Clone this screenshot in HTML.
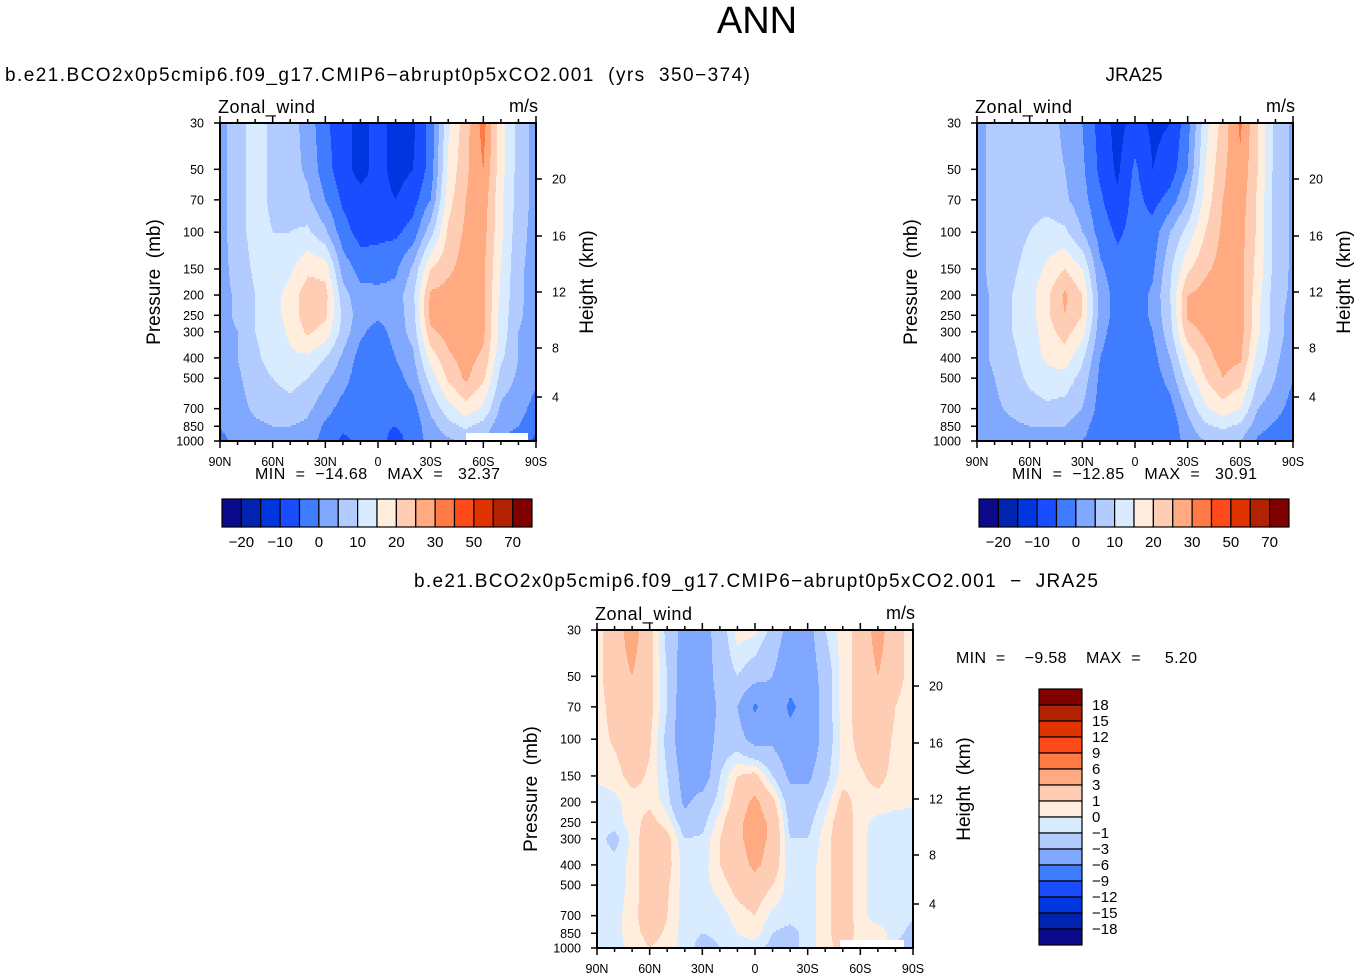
<!DOCTYPE html>
<html><head><meta charset="utf-8">
<style>
html,body{margin:0;padding:0;background:#fff;}
svg{display:block;font-family:"Liberation Sans",sans-serif;}
text{white-space:pre;}
</style></head>
<body>
<svg id="fig" width="1360" height="980" viewBox="0 0 1360 980" xmlns="http://www.w3.org/2000/svg">
<text x="757" y="33" font-size="38" text-anchor="middle">ANN</text>
<text x="5" y="81" font-size="19" textLength="745" lengthAdjust="spacing">b.e21.BCO2x0p5cmip6.f09_g17.CMIP6−abrupt0p5xCO2.001  (yrs  350−374)</text>
<text x="1134" y="81" font-size="19" text-anchor="middle">JRA25</text>
<text x="414" y="587" font-size="19" textLength="684" lengthAdjust="spacing">b.e21.BCO2x0p5cmip6.f09_g17.CMIP6−abrupt0p5xCO2.001  −  JRA25</text>
<g id="p1"></g>
<g id="p2"></g>
<g id="p3"></g>
</svg>
<script>
const latLabels = ["90N","60N","30N","0","30S","60S","90S"];
const pLevels = [30,50,70,100,150,200,250,300,400,500,700,850,1000];
const kmTicks = [20,16,12,8,4];
const kmY = [179,236,292,348,397];
const windBounds = [-20,-15,-10,-5,0,5,10,15,20,25,30,40,50,60,70];
const windLabels = ["−20","−10","0","10","20","30","50","70"];
const diffBounds = [-18,-15,-12,-9,-6,-3,-1,0,1,3,6,9,12,15,18];
const diffLabels = ["18","15","12","9","6","3","1","0","−1","−3","−6","−9","−12","−15","−18"];
const palette = ["#0a0a8a","#0023b0","#0036e0","#1a4dff","#3f7cff","#80a8ff","#b3ccff","#d9ebff","#ffeedd","#ffcdb3","#ffaa80","#ff7a45","#ff4a1a","#e03300","#b32200","#800000"];
const modelField = [
[3,3,3,3,3,3,3,3,2,2,1,0,-1],
[8,8,8,8,7,6,6,5,5,4,3,2,1],
[12,12,12,12,11,10,10,10,9,8,6,4,3],
[9,9,9,10,12,13,13,12,12,10,7,5,3],
[7,7,8,10,14,17,17,16,14,12,8,5,3],
[3,4,6,11,19,23,23,21,14,10,6,4,2],
[-4,-3,0,6,18,22,21,18,10,6,2,-1,-2],
[-8,-8,-6,-3,3,7,9,8,4,2,-2,-4,-6],
[-12,-12,-8,-7,-2,2,2,1,-2,-3,-4,-4,-4],
[-8,-8,-8,-6,-3,2,1,-2,-4,-4,-4,-4,-3],
[-12,-12,-10,-6,-1,2,2,2,0,-2,-4,-5,-7],
[-11,-10,-7,-3,6,9,8,7,4,2,-2,-3,-3],
[-3,-3,0,8,20,26,27,24,17,12,6,3,2],
[14,16,18,21,24,27,28,27,24,21,13,8,4],
[23,24,25,26,27,28,28,28,27,26,18,11,6],
[32,30,28,27,26,26,26,26,24,21,14,8,5],
[17,17,16,16,15,14,13,13,11,8,4,2,0],
[8,8,8,7,6,6,6,5,5,4,2,0,-3],
[3,3,3,3,3,3,2,2,1,1,-2,-4,-6]];
const obsField = [
[3,3,3,3,3,3,3,3,3,2,2,1,0],
[7,7,7,7,7,6,6,6,6,5,4,3,1],
[8,8,8,8,9,10,10,10,9,8,6,4,2],
[8,8,8,10,12,13,13,12,12,11,8,5,3],
[7,7,8,12,16,19,19,18,16,13,9,5,3],
[4,5,6,11,20,26,25,22,18,13,8,5,3],
[0,1,2,5,15,20,20,17,11,8,5,2,0],
[-7,-6,-4,-2,1,3,3,2,0,-1,-2,-3,-3],
[-12,-11,-9,-6,-3,-2,-2,-3,-3,-3,-3,-3,-3],
[-8,-4,-3,-3,-3,-3,-3,-4,-4,-4,-4,-4,-3],
[-11,-10,-7,-3,-1,1,1,0,-2,-3,-4,-4,-4],
[-10,-8,-3,5,9,10,9,8,5,2,-2,-3,-3],
[-2,0,5,12,19,25,26,23,16,12,6,3,2],
[13,15,17,20,24,27,27,26,23,20,14,9,5],
[22,24,25,26,27,28,28,28,27,25,18,11,6],
[31,29,28,27,27,27,27,27,26,22,15,9,5],
[20,20,19,19,18,17,16,16,13,10,5,2,-1],
[8,8,8,8,8,7,7,7,6,5,2,-1,-3],
[4,4,4,4,4,4,3,3,2,0,-2,-4,-3]];
const diffField = [
[0.5,0.5,0.5,0.5,0.2,-0.5,-0.5,-0.5,-0.5,-0.5,-0.5,-0.5,-0.5],
[2,2,1.5,1.2,0.5,-0.3,-0.5,-1.5,-0.5,-0.5,-0.4,-0.4,-0.4],
[4,3,2.5,2,1.5,0.5,0.5,0.3,0.3,0.3,0.5,0.5,0.3],
[1.5,1.5,1.5,1.2,0.8,0.7,1.5,2,2,2,2,1.5,1],
[-1.5,-1,-1,-1.5,-1,-0.5,0.5,1.5,1.5,1.2,1,0.8,0.5],
[-4,-4.5,-5,-5,-4,-3.5,-2,-1,-0.5,-0.5,-0.5,-0.5,-0.5],
[-4,-4.5,-5,-5,-4.5,-2,-1.5,-0.8,-0.5,-0.5,-0.5,-1,-1.5],
[-2,-2,-2.5,-2,-1,-0.5,0.5,1,1,0.5,-0.5,-0.8,-1],
[0.5,-1,-3,-2,1,2,2.5,2.5,2,1.5,0.5,0,-0.5],
[0.3,-2,-6.5,-4,1.5,3.5,4,4,3.5,2,1,0.5,-0.5],
[-1.5,-3,-4,-3.5,-1,1.5,2.5,2.5,2,1,-0.3,-1,-1.5],
[-4,-5,-6.5,-5,-3.5,-2,-1.5,-1,-0.7,-0.5,-0.5,-1.5,-1.5],
[-4,-4.5,-5,-5,-3.5,-2,-1.5,-1,-0.5,-0.5,-0.5,-0.5,-0.5],
[-1,-2,-2,-2,-1.5,-0.5,0.2,0.5,0.5,0.5,0.5,0.5,0.5],
[0.5,0.5,0.5,0.3,0.5,1.5,2,2,2,2,2,2,1.5],
[1.5,1.5,1.5,1.5,0.8,0.5,0.3,0.3,0.3,0.3,0.3,0.5,0.3],
[4,3,2.5,2,1.5,0.5,-0.3,-0.5,-0.5,-0.5,-0.5,0.5,1],
[1.5,1.5,1,0.7,0.5,0.2,-0.3,-0.5,-0.5,-0.5,-0.5,-0.5,-1],
[0.5,0.5,0.3,0.3,0.3,0.2,-0.5,-0.5,-0.5,-0.5,-0.8,-1.5,-3]];
const statsModel = ["−14.68","32.37"];
const statsObs = ["−12.85","30.91"];
const statsDiff = ["−9.58","5.20"];

const NS="http://www.w3.org/2000/svg";
function mk(parent,tag,attrs,txt){const e=document.createElementNS(NS,tag);for(const k in attrs)e.setAttribute(k,attrs[k]);if(txt!==undefined)e.textContent=txt;parent.appendChild(e);return e;}
const L0=Math.log(30),L1=Math.log(1000);
function yOf(p,top,h){return top+(Math.log(p)-L0)/(L1-L0)*h;}
function binIdx(v,b){let i=0;while(i<b.length&&v>=b[i])i++;return i;}
function sample(field,fx,lnp){
  let i=Math.min(Math.floor(fx),17);let tx=fx-i;
  let k=0;while(k<pLevels.length-2&&Math.log(pLevels[k+1])<lnp)k++;
  const a=Math.log(pLevels[k]),b=Math.log(pLevels[k+1]);let ty=(lnp-a)/(b-a);ty=Math.max(0,Math.min(1,ty));
  const v00=field[i][k],v10=field[i+1][k],v01=field[i][k+1],v11=field[i+1][k+1];
  return (v00*(1-tx)+v10*tx)*(1-ty)+(v01*(1-tx)+v11*tx)*ty;
}
function drawPanel(g,field,bounds,left,top){
  const w=316,h=318;
  const cg=mk(g,'g',{});
  
  
  const step=2;
  for(let y=0;y<h;y+=step){
    const lnp=L0+(y+step/2)/h*(L1-L0);
    let runStart=0,runC=-1;
    for(let x=0;x<=w;x++){
      let c=-2;
      if(x<w){const fx=(x+0.5)/w*18;c=binIdx(sample(field,fx,lnp),bounds);}
      if(c!==runC){
        if(runC>=0){const r=mk(cg,'rect',{x:left+runStart,y:top+y,width:x-runStart+0.5,height:step+0.5,fill:palette[runC]});
          
          }
        runStart=x;runC=c;
      }
    }
  }
  const fr=mk(g,'rect',{x:left,y:top,width:w,height:h,fill:'none',stroke:'#000','stroke-width':2});
  
  
  pLevels.forEach(p=>{const yy=yOf(p,top,h);
    mk(g,'line',{x1:left-6,x2:left,y1:yy,y2:yy,stroke:'#000','stroke-width':1.5});
    const t=mk(g,'text',{x:left-16,y:yy+4.5,'font-size':12.5,'text-anchor':'end'},String(p));
    
    });
  kmTicks.forEach((km,i)=>{const yy=top+(kmY[i]-123);
    mk(g,'line',{x1:left+w,x2:left+w+6,y1:yy,y2:yy,stroke:'#000','stroke-width':1.5});
    const t=mk(g,'text',{x:left+w+16,y:yy+4.5,'font-size':12.5},String(km));
    
    });
  for(let i=0;i<=18;i++){const xx=left+i*w/18;const len=(i%3===0)?7:4;
    mk(g,'line',{x1:xx,x2:xx,y1:top+h,y2:top+h+len,stroke:'#000','stroke-width':1.5});
    mk(g,'line',{x1:xx,x2:xx,y1:top,y2:top-len,stroke:'#000','stroke-width':1.5});}
  latLabels.forEach((lb,i)=>{const t=mk(g,'text',{x:left+i*w/6,y:top+h+25,'font-size':12.5,'text-anchor':'middle'},lb);
    
    });
  const yt=mk(g,'text',{transform:`translate(${left-60},${top+h/2}) rotate(-90)`,'font-size':19,'text-anchor':'middle'},'Pressure  (mb)');
  
  
  const ht=mk(g,'text',{transform:`translate(${left+w+57},${top+h/2}) rotate(-90)`,'font-size':19,'text-anchor':'middle'},'Height  (km)');
  
  
  const zt=mk(g,'text',{x:left-2,y:top-10,'font-size':18,textLength:97,lengthAdjust:'spacing'},'Zonal_wind');
  
  
  const ut=mk(g,'text',{x:left+w+2,y:top-11,'font-size':18,'text-anchor':'end'},'m/s');
  
  
}
function hbar(g,left,top,stats){
  const st=mk(g,'text',{x:left+33,y:top-20,'font-size':16,textLength:245,lengthAdjust:'spacing'},`MIN  =  ${stats[0]}    MAX  =   ${stats[1]}`);
  
  
  const bw=310/16;
  palette.forEach((c,i)=>{const r=mk(g,'rect',{x:left+i*bw,y:top,width:bw,height:28,fill:c,stroke:'#000','stroke-width':1.2});
    
    });
  windLabels.forEach((lb,i)=>{const t=mk(g,'text',{x:left+(2*i+1)*bw,y:top+48,'font-size':15,'text-anchor':'middle'},lb);
    
    });
}
const g1=document.getElementById('p1'),g2=document.getElementById('p2'),g3=document.getElementById('p3');
drawPanel(g1,modelField,windBounds,220,123);
const m1=mk(g1,'rect',{x:466,y:433,width:62,height:7,fill:'#fff'});


hbar(g1,222,499,statsModel);
drawPanel(g2,obsField,windBounds,977,123);
hbar(g2,979,499,statsObs);
drawPanel(g3,diffField,diffBounds,597,630);
const m3=mk(g3,'rect',{x:840,y:940,width:64,height:7,fill:'#fff'});


const ds=mk(g3,'text',{x:956,y:663,'font-size':16,textLength:241,lengthAdjust:'spacing'},`MIN  =    ${statsDiff[0]}    MAX  =     ${statsDiff[1]}`);


const bh=256/16;
palette.slice().reverse().forEach((c,i)=>{const r=mk(g3,'rect',{x:1039,y:689+i*bh,width:43,height:bh,fill:c,stroke:'#000','stroke-width':1.2});
  
  });
diffLabels.forEach((lb,i)=>{const t=mk(g3,'text',{x:1092,y:689+(i+1)*bh+5,'font-size':15},lb);
  
  });
</script>
</body></html>
